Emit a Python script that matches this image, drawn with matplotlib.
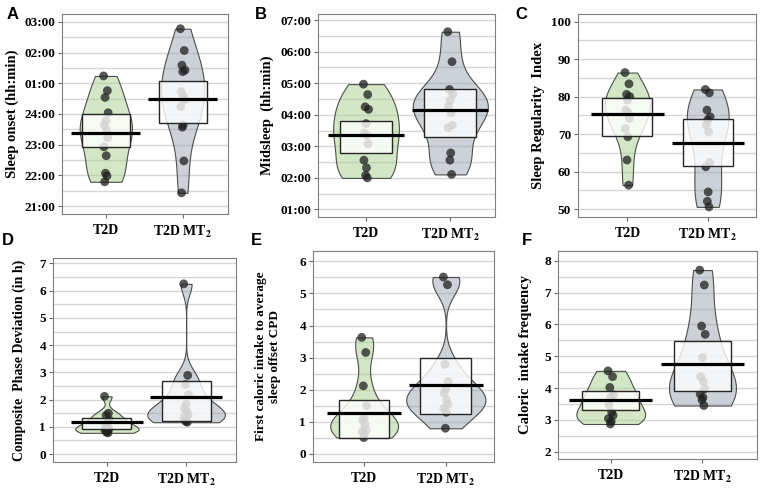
import numpy as np
import matplotlib.pyplot as plt

plt.rcParams['font.family'] = ['Liberation Serif', 'DejaVu Serif']
plt.rcParams['font.weight'] = 'bold'
plt.rcParams['mathtext.fontset'] = 'stix'

groups = ['T2D', r'T2D MT$_\mathbf{2}$']

# A: sleep onset, hours (25 = 01:00 next day)
onset_t2d = [25.24, 24.76, 24.54, 24.04, 23.78, 23.64, 23.46, 23.23, 22.93, 22.64, 22.07, 21.98, 21.79]
onset_mt2 = [26.78, 26.07, 25.59, 25.43, 25.38, 24.73, 24.57, 24.46, 24.24, 23.64, 23.57, 22.47, 21.43]
onset_mean = [23.39, 24.49]
onset_ci = [(22.93, 24.0), (23.70, 25.09)]
onset_ticks = [21, 22, 23, 24, 25, 26, 27]
onset_labels = ['21:00', '22:00', '23:00', '24:00', '01:00', '02:00', '03:00']

# B: midsleep, hours
mid_t2d = [4.97, 4.64, 4.25, 4.17, 3.72, 3.42, 3.35, 3.08, 2.56, 2.32, 2.08, 2.00]
mid_mt2 = [6.63, 5.68, 4.80, 4.65, 4.46, 4.27, 4.06, 3.67, 3.59, 2.79, 2.56, 2.11]
mid_mean = [3.35, 4.16]
mid_ci = [(2.79, 3.80), (3.30, 4.80)]
mid_ticks = [1, 2, 3, 4, 5, 6, 7]
mid_labels = ['01:00', '02:00', '03:00', '04:00', '05:00', '06:00', '07:00']

# C: sleep regularity index
sri_t2d = [86.4, 83.4, 80.6, 80.0, 79.1, 76.4, 75.7, 74.2, 71.5, 69.3, 63.1, 56.4]
sri_mt2 = [81.9, 81.0, 76.4, 74.6, 73.8, 72.4, 70.6, 62.4, 61.3, 54.6, 52.1, 50.6]
sri_mean = [75.4, 67.5]
sri_ci = [(69.5, 79.6), (61.6, 74.0)]
sri_ticks = [50, 60, 70, 80, 90, 100]

# D: composite phase deviation (h)
cpd_t2d = [2.12, 1.50, 1.42, 1.25, 1.15, 1.05, 0.98, 0.92, 0.88, 0.84, 0.80, 0.78]
cpd_mt2 = [6.25, 2.89, 2.55, 2.18, 1.83, 1.66, 1.56, 1.44, 1.35, 1.26, 1.20, 1.17]
cpd_mean = [1.16, 2.08]
cpd_ci = [(0.91, 1.34), (1.20, 2.67)]
cpd_ticks = [0, 1, 2, 3, 4, 5, 6, 7]

# E: first caloric intake to average sleep offset CPD
fci_t2d = [3.63, 3.16, 2.12, 1.50, 1.10, 1.06, 0.92, 0.75, 0.70, 0.64, 0.51]
fci_mt2 = [5.51, 5.27, 2.79, 2.25, 2.02, 1.89, 1.68, 1.54, 1.42, 1.30, 0.80]
fci_mean = [1.28, 2.15]
fci_ci = [(0.49, 1.68), (1.23, 3.00)]
fci_ticks = [0, 1, 2, 3, 4, 5, 6]

# F: caloric intake frequency
frq_t2d = [4.54, 4.36, 4.02, 3.79, 3.71, 3.48, 3.24, 3.14, 3.04, 2.95, 2.87]
frq_mt2 = [7.71, 7.24, 5.95, 5.69, 4.96, 4.36, 4.21, 3.98, 3.81, 3.71, 3.63, 3.45]
frq_mean = [3.62, 4.77]
frq_ci = [(3.32, 3.92), (3.91, 5.49)]
frq_ticks = [2, 3, 4, 5, 6, 7, 8]

bean_colors = [(0.66, 0.82, 0.56, 0.5), (0.61, 0.65, 0.71, 0.5)]
jitter = [-0.03, 0.02, -0.01, 0.03, 0.0, -0.02, 0.01, 0.025, -0.025, 0.005, -0.005, 0.015, -0.015]


def nrd0(kde):
    # R's default bandwidth (as used by yarrr pirate plots)
    x = np.asarray(kde.dataset).ravel()
    sd = x.std(ddof=1)
    iqr = np.subtract(*np.percentile(x, [75, 25]))
    lo = min(sd, iqr / 1.34) if iqr > 0 else sd
    return 0.9 * lo * len(x) ** -0.2 / sd


def pirate(ax, data, means, cis, widths, ticks, labels, ylim, minor, xlim, ylabel,
           label_x, label_size=10.5):
    pos = [1, 2]
    vp = ax.violinplot(data, positions=pos, widths=widths, showextrema=False,
                       bw_method=nrd0, points=300)
    for body, c in zip(vp['bodies'], bean_colors):
        body.set_alpha(None)
        body.set_facecolor(c)
        body.set_edgecolor('#4d4d4d')
        body.set_linewidth(0.8)
        body.set_zorder(1)
    for p, vals in zip(pos, data):
        xs = [p + jitter[i % len(jitter)] for i in range(len(vals))]
        ax.scatter(xs, vals, s=40, color='#1f1f1f', alpha=0.75, edgecolors='none', zorder=2)
    for p, m, (lo, hi) in zip(pos, means, cis):
        ax.bar(p, hi - lo, bottom=lo, width=0.62, color=(1, 1, 1, 0.8),
               edgecolor='#262626', linewidth=1.0, zorder=3)
        ax.hlines(m, p - 0.45, p + 0.45, color='black', linewidth=2.3, zorder=4)
    ax.set_xlim(*xlim)
    ax.set_ylim(*ylim)
    ax.set_xticks(pos)
    ax.set_xticklabels(groups, fontsize=10, fontweight='bold')
    ax.set_yticks(ticks)
    ax.set_yticklabels(labels if labels else [str(t) for t in ticks], fontsize=9.5, fontweight='bold')
    ax.set_yticks(np.arange(ticks[0], ticks[-1] + minor / 2, minor), minor=True)
    ax.grid(True, which='both', axis='y', color='#d6d6d6', linewidth=1.0, zorder=0)
    ax.set_axisbelow(True)
    ax.tick_params(which='minor', length=0)
    ax.tick_params(which='major', length=3, color='#666666', pad=2)
    ax.tick_params(axis='x', pad=4)
    for s in ax.spines.values():
        s.set_color('#7f7f7f')
        s.set_linewidth(0.8)
    ax.set_ylabel(ylabel, fontsize=label_size, fontweight='bold')
    ax.yaxis.set_label_coords(label_x, 0.5)


fig = plt.figure(figsize=(7.64, 4.91), dpi=100)

axA = fig.add_axes([0.0812, 0.5642, 0.2173, 0.4073])
pirate(axA, [onset_t2d, onset_mt2], onset_mean, onset_ci, [0.68, 0.56],
       onset_ticks, onset_labels, (20.74, 27.26), 0.5, (0.43, 2.59),
       'Sleep onset (hh:min)', -0.258)

axB = fig.add_axes([0.4162, 0.558, 0.2317, 0.4134])
pirate(axB, [mid_t2d, mid_mt2], mid_mean, mid_ci, [0.78, 0.89],
       mid_ticks, mid_labels, (0.76, 7.19), 0.5, (0.43, 2.53),
       'Midsleep  (hh:min)', -0.25)

axC = fig.add_axes([0.7565, 0.558, 0.233, 0.4134])
pirate(axC, [sri_t2d, sri_mt2], sri_mean, sri_ci, [0.56, 0.52],
       sri_ticks, None, (47.9, 102), 5, (0.385, 2.6),
       'Sleep Regularity  Index', -0.186)

axD = fig.add_axes([0.0694, 0.0591, 0.2395, 0.4155])
pirate(axD, [cpd_t2d, cpd_mt2], cpd_mean, cpd_ci, [0.8, 0.98],
       cpd_ticks, None, (-0.29, 7.2), 0.5, (0.32, 2.63),
       'Composite  Phase Deviation (in h)', -0.148, 10)

axE = fig.add_axes([0.4097, 0.0591, 0.2369, 0.4297])
pirate(axE, [fci_t2d, fci_mt2], fci_mean, fci_ci, [0.83, 0.97],
       fci_ticks, None, (-0.25, 6.32), 0.5, (0.374, 2.59),
       'First caloric intake to average\nsleep offset CPD', -0.177, 9.5)

axF = fig.add_axes([0.7304, 0.0652, 0.2605, 0.4236])
pirate(axF, [frq_t2d, frq_mt2], frq_mean, frq_ci, [0.75, 0.73],
       frq_ticks, None, (1.77, 8.31), 0.5, (0.425, 2.595),
       'Caloric  intake frequency', -0.13)

for lab, x, y in [('A', 0.008, 0.985), ('B', 0.333, 0.985), ('C', 0.674, 0.985),
                  ('D', 0.002, 0.525), ('E', 0.329, 0.525), ('F', 0.683, 0.525)]:
    fig.text(x, y, lab, fontsize=12, fontweight='bold', family='Liberation Sans',
             ha='left', va='top')

fig.savefig('out.png', dpi=100)
